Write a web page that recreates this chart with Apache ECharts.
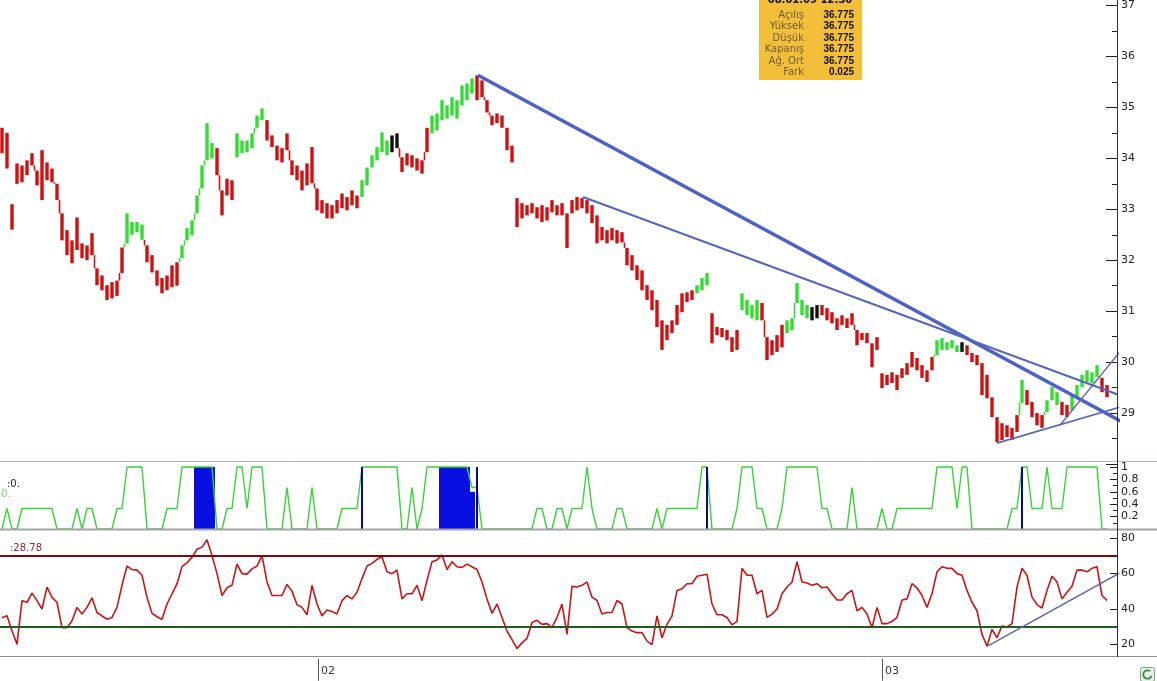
<!DOCTYPE html>
<html><head><meta charset="utf-8">
<script src="https://cdn.jsdelivr.net/npm/echarts@6/dist/echarts.min.js"></script>
<style>html,body{margin:0;padding:0;background:#fff}#c{width:1157px;height:681px}</style>
</head><body><div id="c"></div>
<script>
// ---- price bars (one bar per sample) ----
const priceHigh = [34.6,34.5,33.1,33.9,33.86,33.96,34.1,33.76,34.16,33.92,33.8,33.5,32.92,32.59,32.39,32.84,32.33,32.29,32.53,31.84,
31.7,31.51,31.57,31.6,32.25,32.92,32.75,32.75,32.7,32.29,32.1,31.8,31.65,31.7,31.9,31.96,32.29,32.63,32.78,33.27,
33.86,34.69,34.3,34.2,33.37,33.6,33.57,34.49,34.35,34.35,34.49,34.84,34.98,34.75,34.45,34.25,34.2,34.49,33.96,33.86,
33.76,33.9,34.22,33.41,33.18,33.12,33.08,33.18,33.31,33.24,33.37,33.27,33.57,33.82,34.06,34.22,34.51,34.35,34.45,34.49,
34.02,34.1,34.06,34.0,33.96,34.6,34.84,34.88,35.14,35.04,35.2,35.14,35.43,35.47,35.57,35.63,35.53,35.14,34.84,34.88,
34.84,34.6,34.25,33.22,33.12,33.08,33.12,33.04,33.08,33.04,33.18,33.08,33.12,32.92,33.18,33.24,33.22,33.18,33.08,32.88,
32.65,32.59,32.63,32.59,32.55,32.24,32.1,31.9,31.8,31.51,31.41,31.22,30.82,30.73,30.82,31.12,31.35,31.37,31.41,31.51,
31.65,31.75,30.96,30.69,30.67,30.63,30.49,30.63,31.35,31.22,31.12,31.22,31.16,30.49,30.43,30.53,30.73,30.82,30.86,31.55,
31.22,31.12,31.08,31.12,31.12,31.06,30.98,30.86,30.92,30.86,30.96,30.63,30.57,30.57,30.37,30.49,29.78,29.75,29.8,29.75,
29.88,29.98,30.2,30.08,29.94,29.84,30.1,30.43,30.47,30.39,30.43,30.33,30.39,30.33,30.18,30.14,29.98,29.75,29.31,28.92,
28.8,28.76,28.71,28.96,29.65,29.45,29.22,29.0,28.96,29.25,29.51,29.41,29.22,29.16,29.35,29.55,29.75,29.84,29.8,29.94,
29.69,29.55];
const priceLow = [34.1,33.8,32.6,33.5,33.53,33.67,33.86,33.47,33.18,33.57,33.53,33.18,32.39,32.1,31.94,32.2,32.04,32.0,32.1,31.51,
31.41,31.22,31.25,31.3,31.75,32.33,32.5,32.55,32.4,31.96,31.76,31.5,31.35,31.41,31.47,31.5,32.04,32.39,32.49,32.92,
33.41,33.96,34.0,33.67,32.88,33.27,33.18,34.02,34.1,34.12,34.2,34.6,34.75,34.35,34.22,33.96,33.92,34.16,33.67,33.57,
33.37,33.47,33.51,32.98,32.92,32.82,32.82,32.92,33.02,32.98,33.08,33.02,33.24,33.47,33.82,33.96,34.12,34.06,34.12,34.2,
33.73,33.86,33.82,33.76,33.7,34.12,34.49,34.55,34.75,34.78,34.84,34.78,35.04,35.14,35.27,35.14,35.2,34.9,34.65,34.69,
34.6,34.16,33.92,32.65,32.82,32.88,32.92,32.82,32.75,32.78,32.94,32.88,32.88,32.24,32.92,32.98,33.02,32.92,32.73,32.33,
32.39,32.33,32.39,32.33,32.35,31.9,31.8,31.61,31.41,31.22,31.02,30.69,30.24,30.43,30.57,30.73,30.98,31.18,31.22,31.35,
31.41,31.51,30.37,30.53,30.49,30.43,30.2,30.24,31.02,30.92,30.86,30.82,30.82,30.04,30.14,30.2,30.29,30.57,30.63,31.16,
30.92,30.86,30.82,30.86,30.92,30.82,30.76,30.63,30.73,30.67,30.73,30.33,30.43,30.37,29.9,30.24,29.49,29.55,29.59,29.45,
29.69,29.75,29.9,29.84,29.69,29.61,29.84,30.14,30.24,30.24,30.27,30.2,30.2,30.14,30.0,29.94,29.35,29.29,28.92,28.43,
28.47,28.53,28.47,28.63,29.2,29.16,28.92,28.76,28.71,29.02,29.25,29.16,28.96,28.92,29.06,29.29,29.51,29.61,29.59,29.71,
29.41,29.31];
// bar colour runs: r = falling (red), g = rising (green), k = neutral (black)
const colorRuns = [['r',25],['g',4],['r',7],['g',7],['r',4],['g',6],['r',19],['g',6],['k',2],['r',6],['g',9],['r',44],
['g',3],['r',6],['g',4],['r',5],['g',5],['k',2],['r',23],['g',5],['k',1],['r',11],['g',1],['r',4],['g',3],['r',2],['g',6],['r',2]];

// ---- second panel (0..1 step indicator) ----
const stoch = [0,.33,0,0,.33,.33,.33,.33,.33,.33,.33,0,0,0,0,.33,0,.33,.33,0,
0,0,0,.33,.33,1,1,1,1,0,0,0,0,.33,.33,.33,1,1,1,1,
1,1,1,0,0,.33,.33,1,1,.33,1,1,1,0,0,0,0,.67,0,0,
0,0,.67,0,0,0,0,0,.33,.33,.33,.33,1,1,1,1,1,1,1,1,
0,0,.67,0,.33,1,1,1,1,1,1,1,1,1,.67,.67,0,0,0,0,
0,0,0,0,0,0,0,.33,.33,0,0,.33,.33,0,.33,.33,.33,1,.33,0,
0,0,0,.33,.33,0,0,0,0,0,0,.33,0,.33,.33,.33,.33,.33,.33,.33,
1,1,0,0,0,0,0,.33,1,1,1,.33,.33,0,0,0,.33,1,1,1,
1,1,1,1,.33,.33,0,0,0,0,.67,0,0,0,0,0,.33,0,0,.33,
.33,.33,.33,.33,.33,.33,.33,1,1,1,1,.33,1,1,0,0,0,0,0,0,
0,0,.33,.33,1,1,.33,.33,.33,1,.33,.33,.33,1,1,1,1,1,1,1,
0,0];
const blueFill = [[39,1],[40,1],[41,1],[42,1],[88,1],[89,1],[90,1],[91,1],[92,1],[93,1],[94,0.6]];
const blueLines = [[72,1],[95,1],[141,1],[204,1]];

// ---- third panel (RSI) ----
const rsi = [35,36.1,27.5,20,44.7,43.8,49,44.7,40,52.4,46.6,43.8,29.4,29.4,33.3,40.9,37.1,40.9,46.3,38,
36.1,34.2,35.2,40.9,53.4,64.3,62.3,62,59.1,46.6,37.5,35.6,34.2,42.8,48.6,54.3,63.9,66.2,69.2,73.8,
75,79.2,70.2,60,47.6,52,53.4,65.4,60,59.7,62.7,64.3,70.2,55.3,47.6,47.6,47.6,53.9,50.1,42.4,
40.9,36.7,53.4,42.8,36.1,39.4,38.6,37.1,44.7,47.6,45.7,49.5,57.2,64.3,65.8,68.1,69.6,61,60,62,
45.7,48.6,48.6,53.4,44.7,56.2,66.7,67.7,70.6,62.3,66.7,63.9,63.5,65.4,63.9,62.3,55.3,45.7,37.5,42.8,
35.2,27.5,22.7,17.6,20.8,23.3,32.3,33.6,31.3,31.7,29.4,35.2,42.8,25.6,52.8,52.4,53.4,55.3,46.7,44.8,
37.1,38,38,44.8,42.8,29.4,27.5,26.6,26.6,21.8,19.8,36.1,23.7,31.3,36.1,50.5,51.5,54.3,54.3,58.5,
59.1,59.7,42.8,36.7,36.7,35.2,31,33,63,59.1,59.1,48.6,50.5,35.2,37.1,40,48.6,52.4,55.3,66.8,
55.3,54.7,53.4,54.3,52,52.4,48.6,45.1,45.1,48.6,50.5,39,40.9,37.1,29.4,40.9,31.7,31.7,32.9,35.2,
45.1,45.7,54.3,52,47.6,40.9,48.6,61,63.9,63,63,60,59.1,50.5,43.8,39,25.6,18.9,28.5,23.7,
30.4,29.8,31.7,52.4,63,59.1,46.7,42.5,40.5,50.5,58.5,55.3,45.7,49.5,52.8,62,62,61,63,63.9,
47.6,44.8];
const rsiLevels = [70, 30];
const rsiTrend = [[197.2, 19.1], [228.2, 67.7]];

// ---- drawn trend lines on the price panel: [start, end] in (sample, price) ----
const trendLines = [
  [[95.2, 35.63], [230, 28.51]],
  [[116.2, 33.24], [231, 29.08]],
  [[199, 28.41], [231, 29.33]],
  [[211.6, 28.76], [227.6, 30.69]]
];

// ---- axis labels ----
const monthTicks = [63.2, 176];
const monthLabels = ['02', '03'];

// ---- data box ----
const tipHeader = '08.01.09 12:30';
const tipRows = [['Açılış','36.775'],['Yüksek','36.775'],['Düşük','36.775'],['Kapanış','36.775'],['Ağ. Ort','36.775'],['Fark','0.025']];

// ---------------------------------------------------------------
const COLORS = {r:'#d01010', g:'#30de30', k:'#111111'};
const barColors = [];
colorRuns.forEach(([c,n]) => { for (let k = 0; k < n; k++) barColors.push(COLORS[c]); });
const priceData = priceHigh.map((h, i) => ({value: [i, h, priceLow[i]], itemStyle: {color: barColors[i]}}));
const stochData = stoch.map((v, i) => [i, v]);
const rsiData = rsi.map((v, i) => [i, v]);

const XMIN = -0.4, XMAX = 223;
const FONT = 'DejaVu Sans';
const xBase = {type:'value', min:XMIN, max:XMAX, show:false, axisLine:{onZero:false}};

const chart = echarts.init(document.getElementById('c'), null, {renderer:'canvas'});

const trendStyles = [
  {w:3.5, c:'#4c61c9'}, {w:2, c:'#5466bf'}, {w:1.6, c:'#5a6bb5'}, {w:1.4, c:'#5f6aa5'}
];
const hideMin = (mn) => (v) => (Math.abs(v - mn) < 1e-6 ? '' : String(+v.toFixed(1)));
const tickStyle = {color:'#222', width:1};

const option = {
  animation:false,
  backgroundColor:'#ffffff',
  grid:[
    {left:0, top:5, width:1117, height:459},
    {left:0, top:467, width:1117, height:62},
    {left:0, top:538.3, width:1117, height:106}
  ],
  xAxis:[
    Object.assign({gridIndex:0}, xBase),
    Object.assign({gridIndex:1}, xBase),
    {gridIndex:2, type:'value', min:XMIN, max:XMAX, position:'bottom', offset:14.5,
     axisLine:{show:false, onZero:false},
     axisTick:{show:true, customValues:monthTicks, length:22, lineStyle:{color:'#555', width:1}},
     axisLabel:{show:true, customValues:monthTicks, align:'left', margin:7, padding:[0,0,0,3],
       color:'#333', fontSize:11, fontFamily:FONT,
       formatter:(v) => { let b=0; monthTicks.forEach((t,k)=>{ if (Math.abs(t-v) < Math.abs(monthTicks[b]-v)) b=k; }); return monthLabels[b]; }},
     splitLine:{show:false}}
  ],
  yAxis:[
    {gridIndex:0, type:'value', position:'right', min:28, max:37, interval:1,
     axisLine:{show:true, onZero:false, lineStyle:{color:'#333'}},
     axisTick:{show:true, inside:true, length:11, lineStyle:tickStyle},
     minorTick:{show:true, splitNumber:2, length:5, lineStyle:tickStyle},
     axisLabel:{color:'#222', fontSize:11, margin:4, fontFamily:FONT, formatter:hideMin(28)},
     splitLine:{show:false}, minorSplitLine:{show:false}},
    {gridIndex:1, type:'value', position:'right', min:0, max:1, interval:0.2,
     axisLine:{show:true, onZero:false, lineStyle:{color:'#333'}},
     axisTick:{show:true, inside:true, length:7, lineStyle:tickStyle},
     minorTick:{show:true, splitNumber:2, length:4, lineStyle:tickStyle},
     axisLabel:{color:'#222', fontSize:11, margin:4, fontFamily:FONT, formatter:hideMin(0)},
     splitLine:{show:false}, minorSplitLine:{show:false}},
    {gridIndex:2, type:'value', position:'right', min:20, max:80, interval:20,
     axisLine:{show:true, onZero:false, lineStyle:{color:'#333'}},
     axisTick:{show:true, inside:true, length:7, lineStyle:tickStyle},
     axisLabel:{color:'#222', fontSize:11, margin:4, fontFamily:FONT},
     splitLine:{show:false}}
  ],
  series:[
    {type:'custom', xAxisIndex:0, yAxisIndex:0, data:priceData, clip:false, z:2,
     renderItem:(params, api) => {
       const i = api.value(0);
       const hv = api.value(1), lv = api.value(2);
       const a = api.coord([i, hv]);
       const b = api.coord([i, lv]);
       const w = 3.4;
       const col = api.visual('color');
       const children = [{type:'rect', shape:{x:a[0]-w/2, y:a[1], width:w, height:Math.max(1.5, b[1]-a[1])}, style:{fill:col}}];
       const k = params.dataIndex;
       if (k > 0) {
         const ph = priceHigh[k-1], pl = priceLow[k-1];
         let from = null, to = null;
         if (pl > hv && pl - hv < 0.35) { from = hv; to = pl; }
         else if (ph < lv && lv - ph < 0.35) { from = ph; to = lv; }
         if (from !== null) {
           const p1 = api.coord([i - 0.5, from]);
           const p2 = api.coord([i - 0.5, to]);
           children.push({type:'line', shape:{x1:p1[0], y1:p1[1], x2:p2[0], y2:p2[1]}, style:{stroke:col, lineWidth:1.6}});
         }
       }
       return {type:'group', children};
     }},
    ...trendLines.map((seg, k) => ({
      type:'line', xAxisIndex:0, yAxisIndex:0, data:seg, clip:false, symbol:'none', z:5, silent:true,
      lineStyle:{width:trendStyles[k].w, color:trendStyles[k].c}
    })),
    {type:'custom', xAxisIndex:1, yAxisIndex:1, data:blueFill, clip:false, z:2,
     renderItem:(params, api) => {
       const i = api.value(0);
       const a = api.coord([i, api.value(1)]);
       const b = api.coord([i, 0]);
       const w = api.size([1, 0])[0];
       return {type:'rect', shape:{x:a[0]-w/2-0.5, y:a[1], width:w+1, height:b[1]-a[1]}, style:{fill:'#0710e0'}};
     }},
    {type:'custom', xAxisIndex:1, yAxisIndex:1, data:blueLines, clip:false, z:4,
     renderItem:(params, api) => {
       const i = api.value(0);
       const a = api.coord([i, api.value(1)]);
       const b = api.coord([i, 0]);
       return {type:'rect', shape:{x:a[0]-1, y:a[1], width:2, height:b[1]-a[1]}, style:{fill:'#0a0a80'}};
     }},
    {type:'line', xAxisIndex:1, yAxisIndex:1, data:stochData, symbol:'none', clip:false, z:3,
     lineStyle:{width:1.4, color:'#36d236'}},
    {type:'line', xAxisIndex:2, yAxisIndex:2, data:rsiData, symbol:'none', clip:false, z:4,
     lineStyle:{width:1.6, color:'#c81414'},
     markLine:{silent:true, symbol:'none', label:{show:false},
       data:[{yAxis:rsiLevels[0], lineStyle:{color:'#7a0a0a', width:2, type:'solid'}},
             {yAxis:rsiLevels[1], lineStyle:{color:'#1d5e1d', width:2, type:'solid'}}]}},
    {type:'line', xAxisIndex:2, yAxisIndex:2, data:rsiTrend, symbol:'none', clip:false, z:5, silent:true,
     lineStyle:{width:1.5, color:'#5a6aa8'}}
  ],
  graphic:[
    {type:'line', shape:{x1:0, y1:461.5, x2:1157, y2:461.5}, style:{stroke:'#9cc49c', lineWidth:1}, z:10},
    {type:'line', shape:{x1:0, y1:529.5, x2:1157, y2:529.5}, style:{stroke:'#a3a3a3', lineWidth:2}, z:10},
    {type:'line', shape:{x1:0, y1:656.5, x2:1157, y2:656.5}, style:{stroke:'#8c8c8c', lineWidth:1}, z:10},
    {type:'line', shape:{x1:1117.5, y1:0, x2:1117.5, y2:657}, style:{stroke:'#333', lineWidth:1}, z:10},
    {type:'text', left:7, top:479, style:{text:':0.', fill:'#222', font:'10px ' + FONT}, z:10},
    {type:'text', left:-2, top:489, style:{text:':0.', fill:'#78d078', font:'10px ' + FONT}, z:10},
    {type:'text', left:10, top:543, style:{text:':28.78', fill:'#8b2424', font:'10px ' + FONT}, z:10},
    {type:'group', x:759, y:0, z:20, children:[
      {type:'rect', shape:{x:0, y:-4, width:103, height:84}, style:{fill:'#f3bf3a'}},
      {type:'text', x:51, y:0.5, style:{text:tipHeader, fill:'#111', font:'bold 10px ' + FONT, textAlign:'center', textVerticalAlign:'middle'}},
      ...tipRows.flatMap((r, k) => [
        {type:'text', x:45, y:15 + k*11.5, style:{text:r[0], fill:'#6b5e3e', font:'10px ' + FONT, textAlign:'right', textVerticalAlign:'middle'}},
        {type:'text', x:95, y:15 + k*11.5, style:{text:r[1], fill:'#111', font:'bold 10px Liberation Sans', textAlign:'right', textVerticalAlign:'middle'}}
      ])
    ]},
    {type:'group', left:1140, top:667, z:20, children:[
      {type:'rect', shape:{x:0, y:0, width:14, height:14, r:2}, style:{fill:'#e8efe8', stroke:'#7aa87a', lineWidth:1}},
      {type:'arc', shape:{cx:7, cy:7, r:4.2, startAngle:0.3, endAngle:5.4}, style:{stroke:'#2e8b3e', lineWidth:1.8, fill:null}}
    ]}
  ]
};
chart.setOption(option);
</script>
</body></html>
